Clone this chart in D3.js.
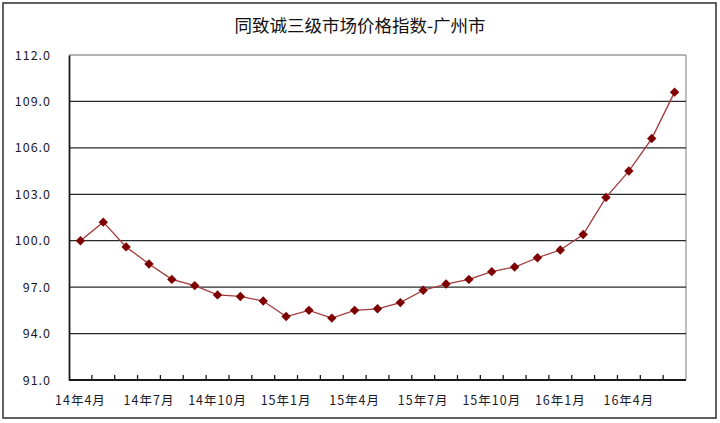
<!DOCTYPE html>
<html><head><meta charset="utf-8">
<script src="https://cdn.jsdelivr.net/npm/d3@7/dist/d3.min.js"></script>
<style>
html,body{margin:0;padding:0;background:#fff;}
svg{display:block;}
text{font-family:"Noto Sans CJK SC","Noto Sans",sans-serif;}
</style></head>
<body>
<svg id="chart" width="720" height="423"></svg>
<script>
const title = "同致诚三级市场价格指数-广州市";
const categories = ["14年4月","14年5月","14年6月","14年7月","14年8月","14年9月","14年10月","14年11月","14年12月",
  "15年1月","15年2月","15年3月","15年4月","15年5月","15年6月","15年7月","15年8月","15年9月","15年10月","15年11月","15年12月",
  "16年1月","16年2月","16年3月","16年4月","16年5月","16年6月"];
const values = [100.0,101.2,99.6,98.5,97.5,97.1,96.5,96.4,96.1,95.1,95.5,95.0,95.5,95.6,96.0,96.8,97.2,97.5,98.0,98.3,98.9,99.4,100.4,102.8,104.5,106.6,109.6];
const yTicks = [91,94,97,100,103,106,109,112];
const xLabelEvery = 3;

const svg = d3.select("#chart");
const L = 69, R = 686, T = 55, B = 380;

svg.append("rect").attr("x",3).attr("y",3).attr("width",713).attr("height",415)
  .attr("fill","#fff").attr("stroke","#3a3a3a").attr("stroke-width",1.6);

svg.append("text").attr("x",360).attr("y",32).attr("text-anchor","middle")
  .attr("font-size",17.5).attr("fill","#111").text(title);

const x = d3.scaleBand().domain(categories).range([L,R]).padding(0);
const y = d3.scaleLinear().domain([91,112]).range([B,T]);

// plot frame top/right gray
svg.append("line").attr("x1",L).attr("x2",R).attr("y1",T).attr("y2",T).attr("stroke","#9a9a9a").attr("stroke-width",1.3);
svg.append("line").attr("x1",R).attr("x2",R).attr("y1",T).attr("y2",B).attr("stroke","#9a9a9a").attr("stroke-width",1.3);

// gridlines
svg.append("g").selectAll("line").data(yTicks.filter(t=>t>91 && t<112)).join("line")
  .attr("x1",L).attr("x2",R).attr("y1",d=>y(d)).attr("y2",d=>y(d))
  .attr("stroke","#2a2a2a").attr("stroke-width",1.3);

// y axis
const yAxis = d3.axisLeft(y).tickValues(yTicks).tickFormat(d3.format(".1f")).tickSize(0).tickPadding(18);
const gy = svg.append("g").attr("transform",`translate(${L},0)`).call(yAxis);
gy.select(".domain").attr("stroke","#1a1a1a").attr("stroke-width",1.8);
gy.selectAll("text").attr("font-size",12.5).attr("fill","#1a1a2a").attr("letter-spacing","1px");

// x axis: inner ticks at band boundaries
const gx = svg.append("g");
gx.append("line").attr("x1",L).attr("x2",R).attr("y1",B).attr("y2",B).attr("stroke","#1a1a1a").attr("stroke-width",1.8);
gx.selectAll("line.tk").data(categories.slice(1)).join("line").attr("class","tk")
  .attr("x1",d=>x(d)).attr("x2",d=>x(d)).attr("y1",B).attr("y2",B-5)
  .attr("stroke","#1a1a1a").attr("stroke-width",1.3);
gx.selectAll("text").data(categories.filter((d,i)=>i%xLabelEvery===0)).join("text")
  .attr("x",d=>x(d)+x.bandwidth()/2).attr("y",405).attr("text-anchor","middle")
  .attr("font-size",12.5).attr("fill","#1a1a2a").attr("letter-spacing","1px").text(d=>d);

// line
const line = d3.line().x((d,i)=>x(categories[i])+x.bandwidth()/2).y(d=>y(d));
svg.append("path").datum(values).attr("d",line).attr("fill","none")
  .attr("stroke","#a33a3a").attr("stroke-width",1.3);

// markers
svg.append("g").selectAll("path").data(values).join("path")
  .attr("transform",(d,i)=>`translate(${x(categories[i])+x.bandwidth()/2},${y(d)})`)
  .attr("d","M0,-4.7L4.7,0L0,4.7L-4.7,0Z").attr("fill","#7f0000");
</script>
</body></html>
